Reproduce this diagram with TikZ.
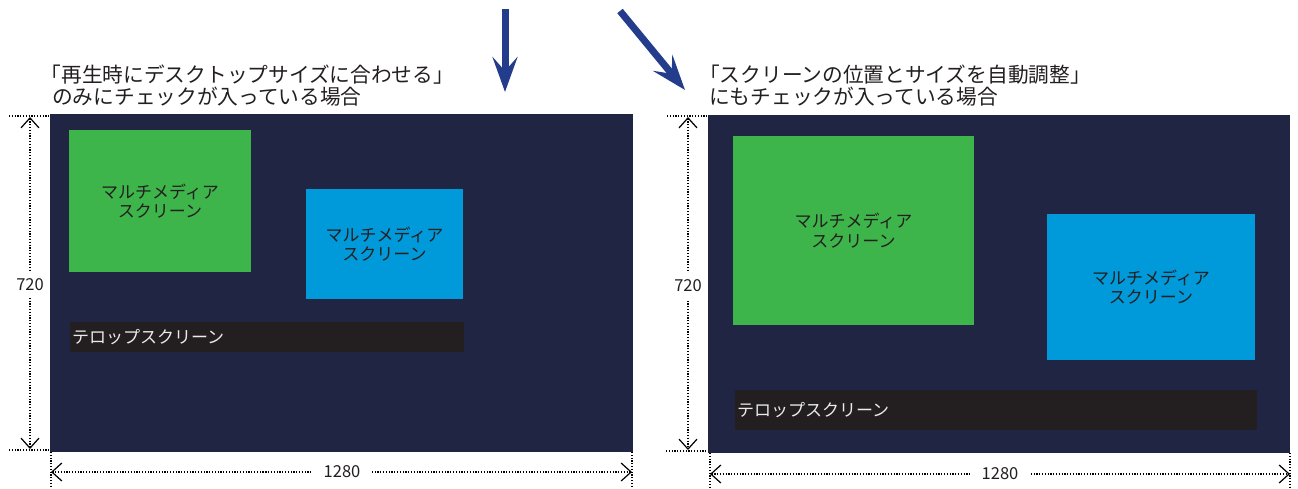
\documentclass[tikz,border=0pt]{standalone}
\usepackage{fontspec}
\setmainfont{Noto Sans CJK JP}
\usetikzlibrary{arrows.meta}
\definecolor{navy}{HTML}{1F2542}
\definecolor{mgreen}{HTML}{3DB54A}
\definecolor{mblue}{HTML}{009ADA}
\definecolor{telopc}{HTML}{231F20}
\definecolor{arrowc}{HTML}{233D8C}
\definecolor{txt}{HTML}{231F20}
\tikzset{
  rectbox/.style={anchor=north west, inner sep=0pt, outer sep=0pt, draw=none},
  medialabel/.style={rectbox, align=center, text=txt,
    font=\fontsize{17}{19.5}\selectfont},
  telopbox/.style={rectbox, fill=telopc, text=white!92!black, align=left,
    inner xsep=2pt, font=\fontsize{17}{19.5}\selectfont},
  titletext/.style={anchor=base west, inner sep=0pt, text=txt,
    font=\fontsize{20.7}{22}\selectfont},
  dimtext/.style={fill=white, text=txt, font=\fontsize{16.5}{18}\selectfont},
  dimline/.style={line width=1.2pt, dash pattern=on 1.2pt off 1.6pt, black},
  dimarrow/.style={dimline, {Straight Barb[length=10pt,width=18pt,line width=1.2pt]}-{Straight Barb[length=10pt,width=18pt,line width=1.2pt]}},
  bigarrow/.style={draw=arrowc, line width=7pt, -{Stealth[length=35pt,width=25pt,inset=14pt]}}
}
\begin{document}
\begin{tikzpicture}[x=1pt,y=-1pt]
\useasboundingbox (0,0) rectangle (1298,488);

% arrows
\coordinate (a1s) at (505,9);
\coordinate (a1e) at (505,92);
\coordinate (a2s) at (620,11);
\coordinate (a2e) at (685,90);
\draw[bigarrow] (a1s) -- (a1e);
\draw[bigarrow] (a2s) -- (a2e);

% titles
\node[titletext] (t1a) at (40.5,82) {「再生時にデスクトップサイズに合わせる」};
\node[titletext] (t1b) at (52,104) {のみにチェックが入っている場合};
\node[titletext] (t2a) at (699,82) {「スクリーンの位置とサイズを自動調整」};
\node[titletext] (t2b) at (709,104) {にもチェックが入っている場合};

% left screen
\node[rectbox, fill=navy, minimum width=583pt, minimum height=338pt] (scrL) at (50,114) {};
\node[medialabel, fill=mgreen, minimum width=182pt, minimum height=142pt] (gL) at (69,130) {マルチメディア\\スクリーン};
\node[medialabel, fill=mblue, minimum width=157pt, minimum height=110pt] (bL) at (306,189) {マルチメディア\\スクリーン};
\node[telopbox, text width=390pt, minimum height=30pt] (tL) at (70,322) {テロップスクリーン};

% right screen
\node[rectbox, fill=navy, minimum width=582pt, minimum height=338pt] (scrR) at (708,115) {};
\node[medialabel, fill=mgreen, minimum width=241pt, minimum height=189pt] (gR) at (733,136) {マルチメディア\\スクリーン};
\node[medialabel, fill=mblue, minimum width=208pt, minimum height=146pt] (bR) at (1047,214) {マルチメディア\\スクリーン};
\node[telopbox, text width=518pt, minimum height=40pt] (tR) at (735,390) {テロップスクリーン};

% left dimensions
\coordinate (lt1) at (9,116); \coordinate (lt2) at (50,116);
\coordinate (lb1) at (9,450); \coordinate (lb2) at (50,450);
\draw[dimline] (lt1) -- (lt2);
\draw[dimline] (lb1) -- (lb2);
\coordinate (lv1) at (30,117); \coordinate (lv2) at (30,449);
\draw[dimarrow] (lv1) -- (lv2);
\node[dimtext, inner xsep=1pt, inner ysep=7pt] (l720) at (30,285) {720};
\coordinate (le1) at (51,452); \coordinate (le2) at (51,488);
\coordinate (lf1) at (632,452); \coordinate (lf2) at (632,488);
\draw[dimline] (le1) -- (le2);
\draw[dimline] (lf1) -- (lf2);
\coordinate (lh1) at (51,472); \coordinate (lh2) at (632,472);
\draw[dimarrow] (lh1) -- (lh2);
\node[dimtext, inner xsep=11pt, inner ysep=1pt] (l1280) at (342,472) {1280};

% right dimensions
\coordinate (rt1) at (667,116); \coordinate (rt2) at (708,116);
\coordinate (rb1) at (666,451); \coordinate (rb2) at (708,451);
\draw[dimline] (rt1) -- (rt2);
\draw[dimline] (rb1) -- (rb2);
\coordinate (rv1) at (688,117); \coordinate (rv2) at (688,450);
\draw[dimarrow] (rv1) -- (rv2);
\node[dimtext, inner xsep=1pt, inner ysep=7pt] (r720) at (688,286) {720};
\coordinate (re1) at (710,453); \coordinate (re2) at (710,488);
\coordinate (rf1) at (1290,453); \coordinate (rf2) at (1290,488);
\draw[dimline] (re1) -- (re2);
\draw[dimline] (rf1) -- (rf2);
\coordinate (rh1) at (710,474); \coordinate (rh2) at (1290,474);
\draw[dimarrow] (rh1) -- (rh2);
\node[dimtext, inner xsep=11pt, inner ysep=1pt] (r1280) at (1000,474) {1280};
\end{tikzpicture}
\end{document}
